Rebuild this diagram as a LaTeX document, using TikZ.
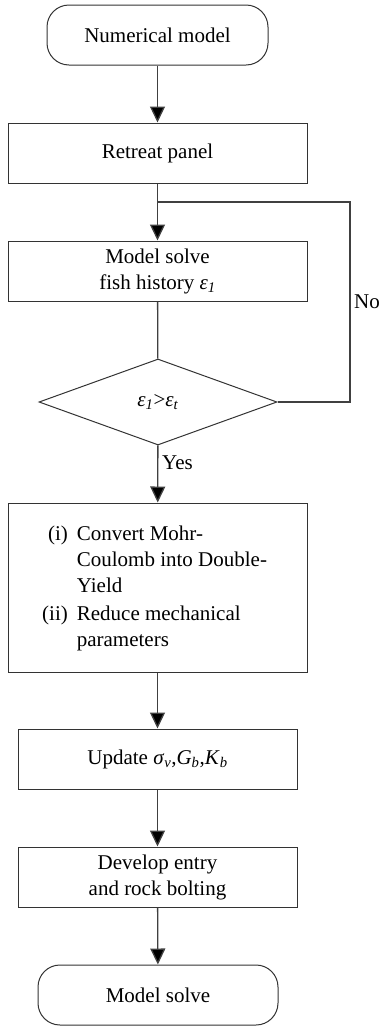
\documentclass[tikz,border=0pt]{standalone}
\usepackage{fontspec}
\setmainfont{Liberation Serif}
\usetikzlibrary{arrows.meta,shapes.geometric}

\newcommand{\eps}[1]{\textit{ε}\textsubscript{\textit{#1}}}

\begin{document}
\begin{tikzpicture}[x=1pt,y=-1pt,
  every node/.style={font=\fontsize{21}{26}\selectfont},
  term/.style={draw=black!80, line width=1pt, rounded corners=22pt,
    minimum height=60pt, inner sep=0pt, align=center},
  stepbox/.style={draw=black!80, line width=1pt, minimum height=60pt,
    inner sep=0pt, align=center},
  decision/.style={draw=black!80, line width=1pt, diamond, aspect=2.77,
    minimum width=238pt, minimum height=86pt, inner sep=0pt},
  link/.style={draw=black!75, line width=1.3pt},
  arrow/.style={link, -{Triangle[length=16pt,width=15pt,fill=black]}},
  lbl/.style={inner sep=0pt}
]
\useasboundingbox (0,0) rectangle (380,1026);

% main column
\node[term, minimum width=221pt] (start) at (157.5,35) {Numerical model};
\node[stepbox, minimum width=299pt] (retreat) at (157.5,153) {Retreat panel};
\node[stepbox, minimum width=299pt] (solve) at (157.5,271) {Model solve\\fish history \eps{1}};
\node[decision] (dec) at (158,402) {\eps{1}>\eps{t}};
\node[stepbox, minimum width=299pt, minimum height=169pt] (convert) at (157.5,587.5) {};
\node[lbl, anchor=base west] (items) at (42,540)
  {\begin{tabular}[t]{@{}r@{\hspace{9pt}}l@{}}
    (i) & Convert Mohr-\\
        & Coulomb into Double-\\
        & Yield\\[2pt]
    (ii) & Reduce mechanical\\
         & parameters
  \end{tabular}};
\node[stepbox, minimum width=279pt] (update) at (157.5,759) {Update \textit{σ}\textsubscript{\textit{v}},\textit{G}\textsubscript{\textit{b}},\textit{K}\textsubscript{\textit{b}}};
\node[stepbox, minimum width=279pt] (develop) at (157.5,877) {Develop entry\\and rock bolting};
\node[term, minimum width=240pt] (finish) at (158,995) {Model solve};

% feedback loop
\coordinate (loop) at (350,202);
\coordinate (join) at (158,202);

\draw[arrow] (start) -- (retreat);
\draw[arrow] (retreat) -- (solve);
\draw[link] (solve) -- (dec);
\draw[link] (dec.east) -| (loop) -- (join);
\draw[arrow] (dec) -- (convert);
\draw[arrow] (convert) -- (update);
\draw[arrow] (update) -- (develop);
\draw[arrow] (develop) -- (finish);

\node[lbl, anchor=west] (no) at (354,302) {No};
\node[lbl, anchor=west] (yes) at (162,463) {Yes};
\end{tikzpicture}
\end{document}
